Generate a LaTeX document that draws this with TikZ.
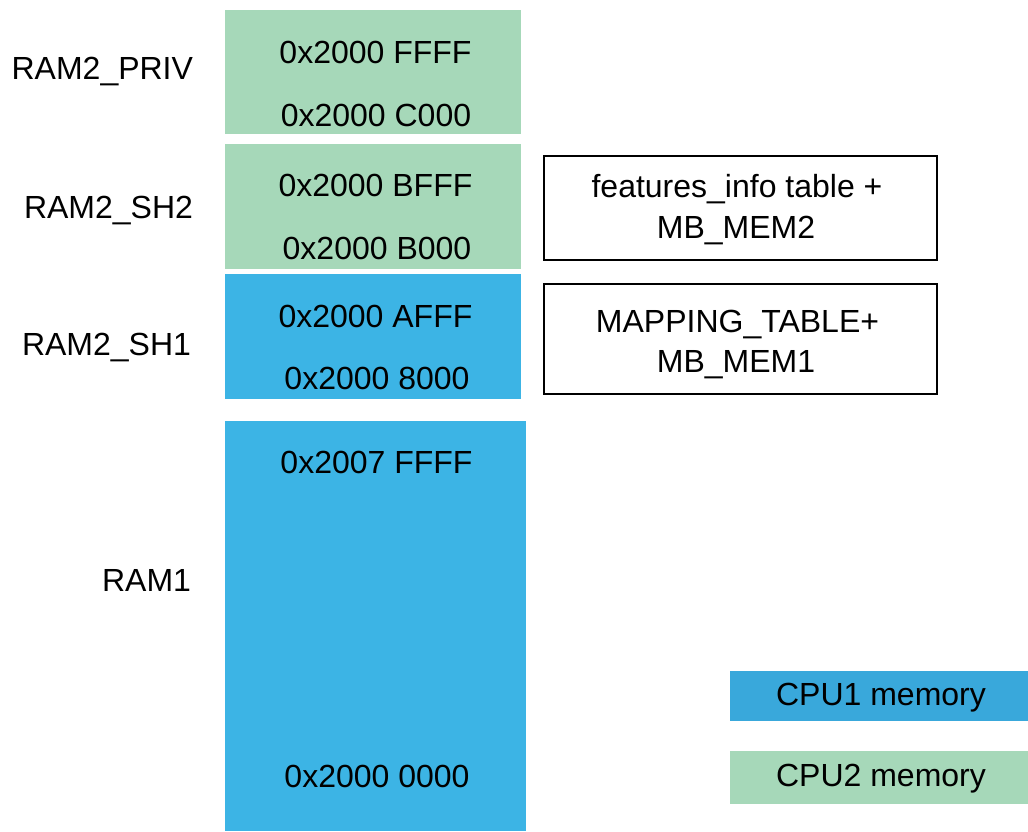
\documentclass[tikz,border=0pt]{standalone}
\usepackage{fontspec}
\setmainfont{Liberation Sans}
\definecolor{cpuone}{HTML}{3CB4E5}
\definecolor{cpuonekey}{HTML}{39A8DB}
\definecolor{cputwo}{HTML}{A6D8B9}
\begin{document}
\begin{tikzpicture}[x=1pt,y=-1pt,
  every node/.style={font=\fontsize{32}{41}\selectfont, inner sep=0pt, outer sep=0pt},
  region/.style={rectangle, draw=none, minimum width=#1},
  txt/.style={anchor=base},
  lbl/.style={anchor=base east},
  infobox/.style={rectangle, draw=black, line width=2.2pt, minimum width=393pt}]
\useasboundingbox (0,0) rectangle (1028,831);

% memory regions
\node[region=296pt, fill=cputwo, minimum height=124pt] (priv) at (373,72) {};
\node[region=296pt, fill=cputwo, minimum height=125pt] (sh2) at (373,206.5) {};
\node[region=296pt, fill=cpuone, minimum height=124.5pt] (sh1) at (373,336.25) {};
\node[region=300.5pt, fill=cpuone, minimum height=410pt] (ram1) at (375.25,626) {};

% addresses
\node[txt] (privtop) at (375.5,63.3) {0x2000 FFFF};
\node[txt] (privbot) at (376,126.7) {0x2000 C000};
\node[txt] (sh2top) at (375.5,196.7) {0x2000 BFFF};
\node[txt] (sh2bot) at (377,259.3) {0x2000 B000};
\node[txt] (sh1top) at (375.5,327.3) {0x2000 AFFF};
\node[txt] (sh1bot) at (377,389.3) {0x2000 8000};
\node[txt] (ram1top) at (376.5,473.3) {0x2007 FFFF};
\node[txt] (ram1bot) at (377,787.3) {0x2000 0000};

% region names
\node[lbl] (nprivl) at (193,79.3) {RAM2\_PRIV};
\node[lbl] (nsh2) at (193,218.3) {RAM2\_SH2};
\node[lbl] (nsh1) at (191,355) {RAM2\_SH1};
\node[lbl] (nram1) at (191,591.7) {RAM1};

% shared buffer contents
\node[infobox, minimum height=104pt] (feat) at (740.5,208) {};
\node[txt] (feata) at (737,197.3) {features\_info table +};
\node[txt] (featb) at (736,238.3) {MB\_MEM2};
\node[infobox, minimum height=110pt] (map) at (740.5,339) {};
\node[txt] (mapa) at (737.5,332.3) {MAPPING\_TABLE+};
\node[txt] (mapb) at (736,372.3) {MB\_MEM1};

% legend
\node[region=298pt, fill=cpuonekey, minimum height=50pt] (keyone) at (879,696) {};
\node[txt] (keyonet) at (881,705) {CPU1 memory};
\node[region=298pt, fill=cputwo, minimum height=53pt] (keytwo) at (879,777.5) {};
\node[txt] (keytwot) at (881,786.7) {CPU2 memory};
\end{tikzpicture}
\end{document}
